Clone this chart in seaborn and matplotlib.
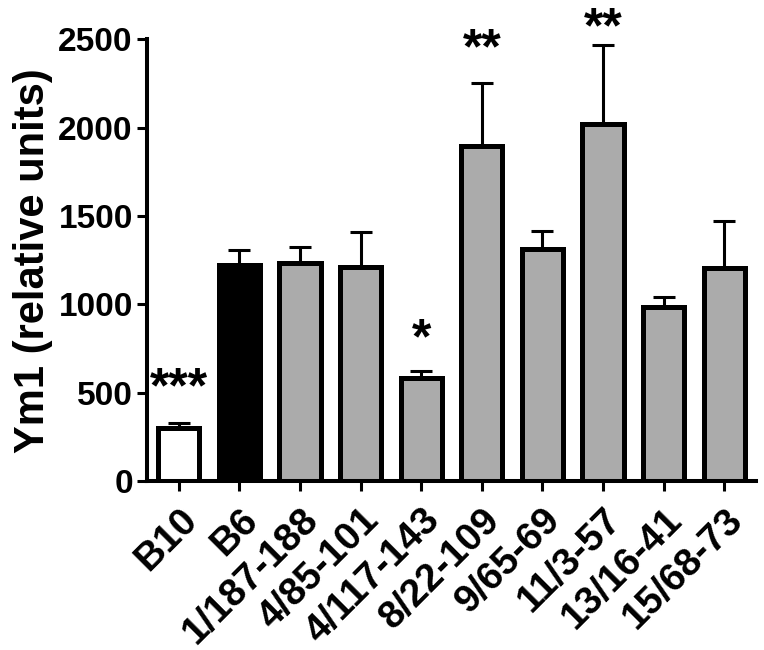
import numpy as np
import matplotlib
matplotlib.use("Agg")
import matplotlib.pyplot as plt
import seaborn as sns

# ---- data ----
strains = ["B10", "B6", "1/187-188", "4/85-101", "4/117-143", "8/22-109",
           "9/65-69", "11/3-57", "13/16-41", "15/68-73"]
ym1 = [300, 1225, 1235, 1210, 585, 1895, 1315, 2020, 985, 1205]
sem = [27, 85, 90, 200, 40, 360, 100, 450, 55, 265]
stars = ["***", "", "", "", "*", "**", "", "**", "", ""]
bar_colors = ["#ffffff", "#000000"] + ["#ababab"] * 8

sns.set_theme(style="ticks")
plt.rcParams["font.family"] = ["Liberation Sans", "DejaVu Sans"]
plt.rcParams["font.weight"] = "bold"
plt.rcParams["text.color"] = "black"
plt.rcParams["axes.labelcolor"] = "black"

fig = plt.figure(figsize=(7.64, 6.5), dpi=100)
ax = fig.add_axes([0.192, 0.26, 0.798, 0.6795])

# error bars first (upper only) so the bar outline sits on top
ax.errorbar(np.arange(len(strains)), ym1, yerr=[np.zeros(len(sem)), sem],
            fmt="none", ecolor="black", elinewidth=2.2, capsize=8.2,
            capthick=2.2, zorder=1)

sns.barplot(x=strains, y=ym1, hue=strains, palette=bar_colors, legend=False,
            width=0.68, edgecolor="black", linewidth=3.6, ax=ax, zorder=2)

# significance stars above the error bars (offset in points)
star_pad = [15, 0, 0, 0, 12.5, 14, 0, 2, 0, 0]
for i, s in enumerate(stars):
    if s:
        ax.annotate(s, xy=(i, ym1[i] + sem[i]), xytext=(0, star_pad[i]),
                    textcoords="offset points", ha="center", va="baseline",
                    fontsize=36, fontweight="bold", annotation_clip=False)

ax.set_xlim(-0.53, len(strains) - 0.47)
ax.set_ylim(0, 2500)
ax.set_yticks([0, 500, 1000, 1500, 2000, 2500])
ax.set_ylabel("Ym1 (relative units)", fontsize=30, fontweight="bold", labelpad=4)
ax.set_xlabel("")

sns.despine(ax=ax)
for sp in ["left", "bottom"]:
    ax.spines[sp].set_linewidth(2.9)
    ax.spines[sp].set_color("black")

ax.tick_params(axis="both", width=2.2, length=7, colors="black", pad=3)
ax.tick_params(axis="y", labelsize=24)
ax.tick_params(axis="x", labelsize=28, pad=8)
plt.setp(ax.get_xticklabels(), rotation=45, ha="right", rotation_mode="anchor",
         fontweight="bold")
plt.setp(ax.get_yticklabels(), fontweight="bold")

fig.savefig("out.png", dpi=100)
